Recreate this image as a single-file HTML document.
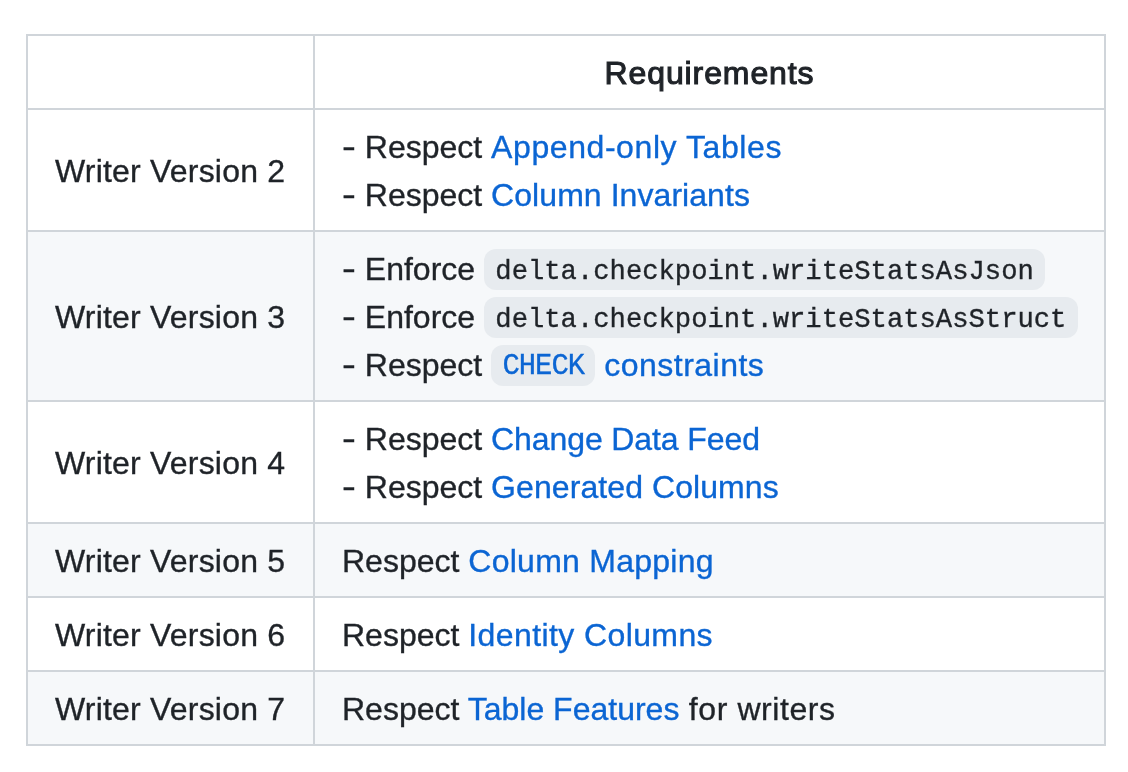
<!DOCTYPE html>
<html><head><meta charset="utf-8">
<style>
html,body{margin:0;padding:0;background:#fff;width:1128px;height:772px;overflow:hidden}
body{font-family:"Liberation Sans",sans-serif;font-size:32px;line-height:48px;color:#1f2328;position:relative}
.r{position:absolute;left:26px;width:1080px}
.g{background:#f6f8fa}
.hl{position:absolute;left:26px;width:1080px;height:2px;background:#d0d5da}
.vl{position:absolute;top:34px;height:712px;width:2px;background:#d0d5da}
.c1{position:absolute;left:55px;white-space:nowrap;letter-spacing:0.2px}
.c2{position:absolute;left:342px;white-space:nowrap}
.th{position:absolute;left:315px;width:789px;text-align:center;letter-spacing:0.9px;-webkit-text-stroke:1.1px currentColor}
.d{display:inline-block;width:22.8px}
.d i{font-style:normal;display:inline-block;transform:scaleX(1.3);transform-origin:0 0;position:relative;top:-1px}
a{color:#0b65d3;text-decoration:none}
code{font-family:"Liberation Mono",monospace;font-size:27.2px;line-height:1;vertical-align:2px;padding:6.5px 11.4px 3.7px;border-radius:12px;background:rgba(175,184,193,0.2)}
.c1,.c2,.th{will-change:transform}
.c1,.c2{-webkit-text-stroke:0.35px currentColor}
.ck{font-size:28.8px;letter-spacing:-0.96px;padding:5.17px 11.4px 3.2px}
</style></head><body>
<div class="r" style="top:36px;height:72px"></div>
<div class="r" style="top:110px;height:120px"></div>
<div class="r g" style="top:232px;height:168px"></div>
<div class="r" style="top:402px;height:120px"></div>
<div class="r g" style="top:524px;height:72px"></div>
<div class="r" style="top:598px;height:72px"></div>
<div class="r g" style="top:672px;height:72px"></div>

<div class="hl" style="top:34px"></div>
<div class="hl" style="top:108px"></div>
<div class="hl" style="top:230px"></div>
<div class="hl" style="top:400px"></div>
<div class="hl" style="top:522px"></div>
<div class="hl" style="top:596px"></div>
<div class="hl" style="top:670px"></div>
<div class="hl" style="top:744px"></div>
<div class="vl" style="left:26px"></div>
<div class="vl" style="left:313px"></div>
<div class="vl" style="left:1104px"></div>

<div class="th" style="top:49px">Requirements</div>

<div class="c1" style="top:147px">Writer Version 2</div>
<div class="c2" style="top:123px"><span class="d"><i>-</i></span>Respect <a style="letter-spacing:0.58px">Append-only Tables</a><br><span class="d"><i>-</i></span>Respect <a style="letter-spacing:0.06px">Column Invariants</a></div>

<div class="c1" style="top:293px">Writer Version 3</div>
<div class="c2" style="top:245px"><span class="d"><i>-</i></span>Enforce <code>delta.checkpoint.writeStatsAsJson</code><br><span class="d"><i>-</i></span>Enforce <code>delta.checkpoint.writeStatsAsStruct</code><br><span class="d"><i>-</i></span>Respect <a><code class="ck">CHECK</code> <span style="letter-spacing:0.47px">constraints</span></a></div>

<div class="c1" style="top:439px">Writer Version 4</div>
<div class="c2" style="top:415px"><span class="d"><i>-</i></span>Respect <a style="letter-spacing:-0.1px">Change Data Feed</a><br><span class="d"><i>-</i></span>Respect <a style="letter-spacing:0.08px">Generated Columns</a></div>

<div class="c1" style="top:537px">Writer Version 5</div>
<div class="c2" style="top:537px">Respect <a style="letter-spacing:0.26px">Column Mapping</a></div>

<div class="c1" style="top:611px">Writer Version 6</div>
<div class="c2" style="top:611px">Respect <a style="letter-spacing:0.4px">Identity Columns</a></div>

<div class="c1" style="top:685px">Writer Version 7</div>
<div class="c2" style="top:685px">Respect <a>Table Features</a><span style="letter-spacing:0.58px"> for writers</span></div>
</body></html>
